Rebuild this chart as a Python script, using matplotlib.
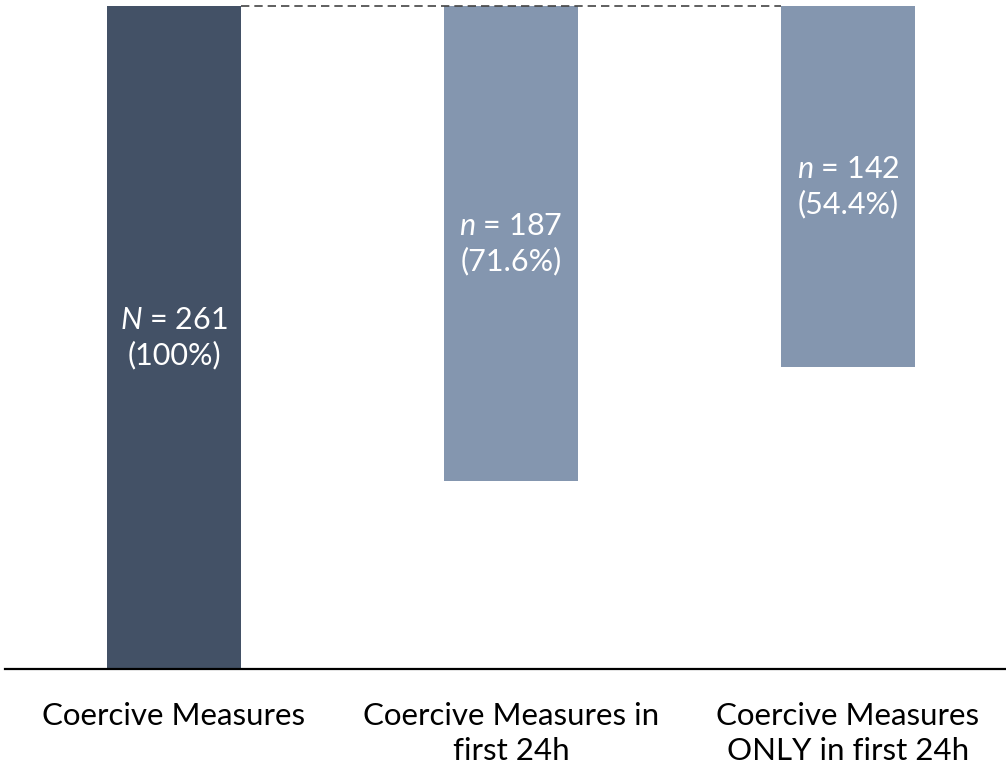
import matplotlib.pyplot as plt

plt.rcParams['font.family'] = ['Lato', 'DejaVu Sans']
plt.rcParams['mathtext.fontset'] = 'custom'
plt.rcParams['mathtext.it'] = 'Lato:italic'
plt.rcParams['mathtext.rm'] = 'Lato'

# data
categories = ['Coercive Measures', 'Coercive Measures in\nfirst 24h', 'Coercive Measures\nONLY in first 24h']
counts = [261, 187, 142]
percents = ['100%', '71.6%', '54.4%']
symbols = ['N', 'n', 'n']
colors = ['#435166', '#8496af', '#8496af']

total = counts[0]
xs = list(range(len(counts)))
bottoms = [total - c for c in counts]
w = 0.398

fig = plt.figure(figsize=(10.06, 7.72), dpi=100)
ax = fig.add_axes([5 / 1006, 103 / 772, 1001 / 1006, 663 / 772])

ax.bar(xs, counts, bottom=bottoms, width=w, color=colors)

# dashed line across the top
ax.hlines(total, xs[0] + w / 2, xs[2] - w / 2, colors='#444444',
          linestyles=(0, (5, 3)), linewidth=1.2, clip_on=False)

for x, c, b, p, s in zip(xs, counts, bottoms, percents, symbols):
    ax.text(x, b + c / 2, '$' + s + '$ = ' + str(c) + '\n(' + p + ')',
            ha='center', va='center', color='white', fontsize=22, linespacing=1.28)

ax.set_xlim(-0.5015, 2.469)
ax.set_ylim(0, total)
ax.set_xticks(xs)
ax.set_xticklabels(categories, fontsize=22.5, linespacing=1.3)
ax.tick_params(axis='x', length=0, pad=24)
ax.set_yticks([])
for side in ['top', 'right', 'left']:
    ax.spines[side].set_visible(False)
ax.spines['bottom'].set_linewidth(1.6)

plt.savefig('out.png', dpi=100)
